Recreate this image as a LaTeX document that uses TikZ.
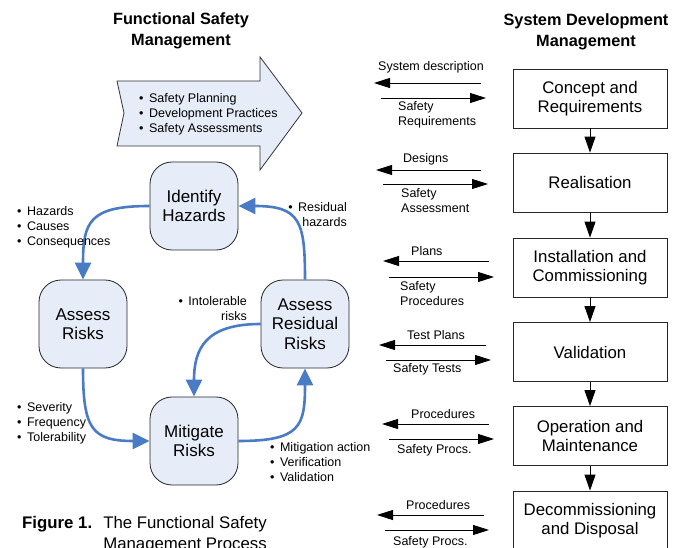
\documentclass[tikz,border=0pt]{standalone}
\usepackage{fontspec}
\setmainfont{Liberation Sans}
\usetikzlibrary{arrows.meta}
\definecolor{boxblue}{HTML}{E6EDF8}
\definecolor{flowblue}{HTML}{4A7CC6}
\newcommand\mybul{\textbullet\hspace{5.5pt}}
\tikzset{
  rbox/.style={draw=black!85, fill=boxblue, rounded corners=22pt, minimum width=88pt, minimum height=88pt, align=center, font=\fontsize{17}{19.5}\selectfont, inner sep=0pt, line width=0.8pt},
  sbox/.style={draw=black!85, fill=white, minimum width=154pt, minimum height=59pt, align=center, font=\fontsize{16.8}{19.5}\selectfont, inner sep=0pt, line width=0.8pt},
  lab/.style={font=\fontsize{12.5}{15}\selectfont, inner sep=0pt},
  ttl/.style={font=\fontsize{16.3}{20.5}\selectfont\bfseries, align=center, inner sep=0pt},
  flow/.style={draw=flowblue, line width=2.6pt, -{Triangle[length=17pt,width=16pt,fill=flowblue]}},
  side/.style={line width=0.9pt, -{Triangle[length=16pt,width=10pt]}},
  down/.style={line width=0.9pt, -{Triangle[length=16pt,width=11pt]}},
}
\begin{document}
\begin{tikzpicture}[x=1pt,y=-1pt]
\useasboundingbox (0,0) rectangle (686,548);
\clip (0,0) rectangle (686,548);
\fill[white] (0,0) rectangle (686,548);

% titles
\node[ttl] (t1) at (181,31) {Functional Safety\\Management};
\node[ttl] (t2) at (586,32) {System Development\\Management};

% big arrow
\draw[fill=boxblue, draw=black!80, line width=0.8pt] (117,81) -- (260,81) -- (260,57) -- (302,113) -- (260,170) -- (260,146) -- (117,146) -- (124,113) -- cycle;
\node[lab, align=left, anchor=west] (bl) at (139,114) {\mybul Safety Planning\\\mybul Development Practices\\\mybul Safety Assessments};

% cycle boxes
\node[rbox] (ih) at (194,206) {Identify\\Hazards};
\node[rbox] (ar) at (83,324) {Assess\\Risks};
\node[rbox] (arr) at (305,324) {Assess\\Residual\\Risks};
\node[rbox] (mr) at (194,441) {Mitigate\\Risks};

\draw[flow] (ih.west) .. controls +(-60,0) and +(0,-58) .. (ar.north);
\draw[flow] (ar.south) .. controls +(0,60) and +(-58,0) .. (mr.west);
\draw[flow] (mr.east) .. controls +(62,0) and +(0,58) .. (arr.south);
\draw[flow] (arr.north) .. controls +(0,-58) and +(62,0) .. (ih.east);
\draw[flow] (arr.west) .. controls +(-55,0) and +(0,-48) .. (mr.north);

% labels of the cycle
\node[lab, align=left, anchor=west] (l1) at (17,227) {\mybul Hazards\\\mybul Causes\\\mybul Consequences};
\node[lab, align=right, anchor=east] (l2) at (347,215) {\mybul Residual\\hazards};
\node[lab, align=right, anchor=east] (l3) at (247,309) {\mybul Intolerable\\risks\hspace{6pt}};
\node[lab, align=left, anchor=west] (l4) at (17,423) {\mybul Severity\\\mybul Frequency\\\mybul Tolerability};
\node[lab, align=left, anchor=west] (l5) at (270,462) {\mybul Mitigation action\\\mybul Verification\\\mybul Validation};

% caption
\node[inner sep=0pt, anchor=west, font=\fontsize{16.8}{20.5}\selectfont\bfseries] (fig) at (22,524) {Figure 1.};
\node[inner sep=0pt, align=center, font=\fontsize{16.8}{20.5}\selectfont] (cap) at (185,534.5) {The Functional Safety\\Management Process};

% right column
\node[sbox] (c1) at (590,98.5) {Concept and\\Requirements};
\node[sbox] (c2) at (590,182.5) {Realisation};
\node[sbox] (c3) at (590,267.5) {Installation and\\Commissioning};
\node[sbox] (c4) at (590,352) {Validation};
\node[sbox] (c5) at (590,436) {Operation and\\Maintenance};
\node[sbox] (c6) at (590,520.5) {Decommissioning\\and Disposal};
\draw[down] (c1) -- (c2);
\draw[down] (c2) -- (c3);
\draw[down] (c3) -- (c4);
\draw[down] (c4) -- (c5);
\draw[down] (c5) -- (c6);

% side arrows
\coordinate (a1s) at (481,83);  \coordinate (a1e) at (374,83);
\coordinate (b1s) at (381,98);  \coordinate (b1e) at (486,98);
\coordinate (a2s) at (481,170); \coordinate (a2e) at (376,170);
\coordinate (b2s) at (383,184); \coordinate (b2e) at (488,184);
\coordinate (a3s) at (489,261); \coordinate (a3e) at (383,261);
\coordinate (b3s) at (389,277); \coordinate (b3e) at (494,277);
\coordinate (a4s) at (486,345); \coordinate (a4e) at (379,345);
\coordinate (b4s) at (386,360); \coordinate (b4e) at (491,360);
\coordinate (a5s) at (489,424); \coordinate (a5e) at (382,424);
\coordinate (b5s) at (389,439); \coordinate (b5e) at (494,439);
\coordinate (a6s) at (484,515); \coordinate (a6e) at (377,515);
\coordinate (b6s) at (385,530); \coordinate (b6e) at (489,530);
\foreach \i in {1,...,6}{
  \draw[side] (a\i s) -- (a\i e);
  \draw[side] (b\i s) -- (b\i e);
}
\node[lab, anchor=west] (s1) at (378,67) {System description};
\node[lab, anchor=north west, align=left] (r1) at (398,101) {Safety\\Requirements};
\node[lab, anchor=west] (s2) at (403,159) {Designs};
\node[lab, anchor=north west, align=left] (r2) at (401,188) {Safety\\Assessment};
\node[lab, anchor=west] (s3) at (411,251) {Plans};
\node[lab, anchor=north west, align=left] (r3) at (400,281) {Safety\\Procedures};
\node[lab, anchor=west] (s4) at (407,335) {Test Plans};
\node[lab, anchor=west] (r4) at (393,369) {Safety Tests};
\node[lab, anchor=west] (s5) at (411,414) {Procedures};
\node[lab, anchor=west] (r5) at (397,450) {Safety Procs.};
\node[lab, anchor=west] (s6) at (406,505) {Procedures};
\node[lab, anchor=west] (r6) at (393,542) {Safety Procs.};
\end{tikzpicture}
\end{document}
